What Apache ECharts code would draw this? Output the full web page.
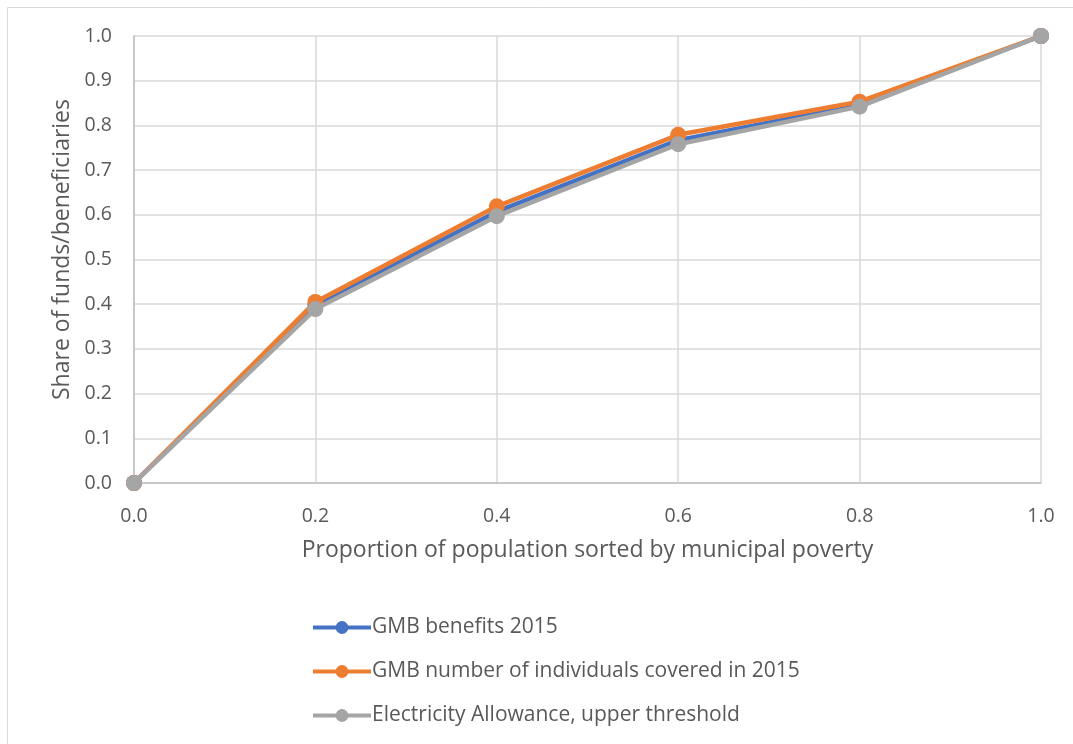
<!DOCTYPE html>
<html>
<head>
<meta charset="utf-8">
<script src="https://cdn.jsdelivr.net/npm/echarts@6/dist/echarts.min.js"></script>
<style>
  html, body { margin: 0; padding: 0; background: #ffffff; }
  #chart { width: 1073px; height: 744px; }
</style>
</head>
<body>
<div id="chart"></div>
<script>
// Cumulative population share (x) and cumulative share of funds / beneficiaries (y)
const populationShare = [0.0, 0.2, 0.4, 0.6, 0.8, 1.0];
const gmbBenefits = [0.0, 0.398, 0.607, 0.767, 0.846, 1.0];
const gmbIndividuals = [0.0, 0.405, 0.619, 0.779, 0.853, 1.0];
const electricityAllowance = [0.0, 0.389, 0.597, 0.758, 0.842, 1.0];

const seriesNames = [
  'GMB benefits 2015',
  'GMB number of individuals covered in 2015',
  'Electricity Allowance, upper threshold'
];
const seriesColors = ['#4472C4', '#ED7D31', '#A5A5A5'];
const seriesValues = [gmbBenefits, gmbIndividuals, electricityAllowance];

const FONT = '"Open Sans", "Liberation Sans", sans-serif';
const TEXT = '#595959';

const chart = echarts.init(document.getElementById('chart'), null, { renderer: 'canvas' });

chart.setOption({
  animation: false,
  backgroundColor: '#ffffff',
  textStyle: { fontFamily: FONT },
  graphic: [{
    type: 'rect',
    shape: { x: 7.5, y: 7.5, width: 1100, height: 800 },
    style: { fill: 'none', stroke: '#d9d9d9', lineWidth: 1 },
    silent: true,
    z: -1
  }],
  grid: { left: 134, right: 32, top: 36, bottom: 261 },
  xAxis: {
    type: 'value',
    min: 0, max: 1, interval: 0.2,
    name: 'Proportion of population sorted by municipal poverty',
    nameLocation: 'middle',
    nameGap: 56,
    nameTextStyle: { fontSize: 23, color: TEXT, fontFamily: FONT },
    axisLine: { show: true, lineStyle: { color: '#bfbfbf', width: 1.5 } },
    axisTick: { show: false },
    axisLabel: { margin: 23, fontSize: 19.5, color: TEXT, fontFamily: FONT,
      formatter: v => v.toFixed(1) },
    splitLine: { show: true, lineStyle: { color: '#d9d9d9', width: 1.5 } }
  },
  yAxis: {
    type: 'value',
    min: 0, max: 1, interval: 0.1,
    name: 'Share of funds/beneficiaries',
    nameLocation: 'middle',
    nameGap: 60,
    nameTextStyle: { fontSize: 23, color: TEXT, fontFamily: FONT, padding: [0, 0, 0, 20] },
    axisLine: { show: true, lineStyle: { color: '#bfbfbf', width: 1.5 } },
    axisTick: { show: false },
    axisLabel: { margin: 22, fontSize: 19.5, color: TEXT, fontFamily: FONT,
      formatter: v => v.toFixed(1) },
    splitLine: { show: true, lineStyle: { color: '#d9d9d9', width: 1.5 } }
  },
  legend: {
    orient: 'vertical',
    left: 306,
    top: 612,
    itemWidth: 58,
    itemHeight: 16,
    itemGap: 23,
    lineStyle: { width: 4 },
    textStyle: { fontSize: 21, color: TEXT, fontFamily: FONT, padding: [0, 0, 0, -4] },
    data: seriesNames
  },
  series: seriesValues.map((vals, i) => ({
    name: seriesNames[i],
    type: 'line',
    data: populationShare.map((x, j) => [x, vals[j]]),
    color: seriesColors[i],
    symbol: 'circle',
    symbolSize: 16,
    showAllSymbol: true,
    lineStyle: { width: 4.5, color: seriesColors[i] },
    itemStyle: { color: seriesColors[i] },
    z: 2 + i
  }))
});
</script>
</body>
</html>
